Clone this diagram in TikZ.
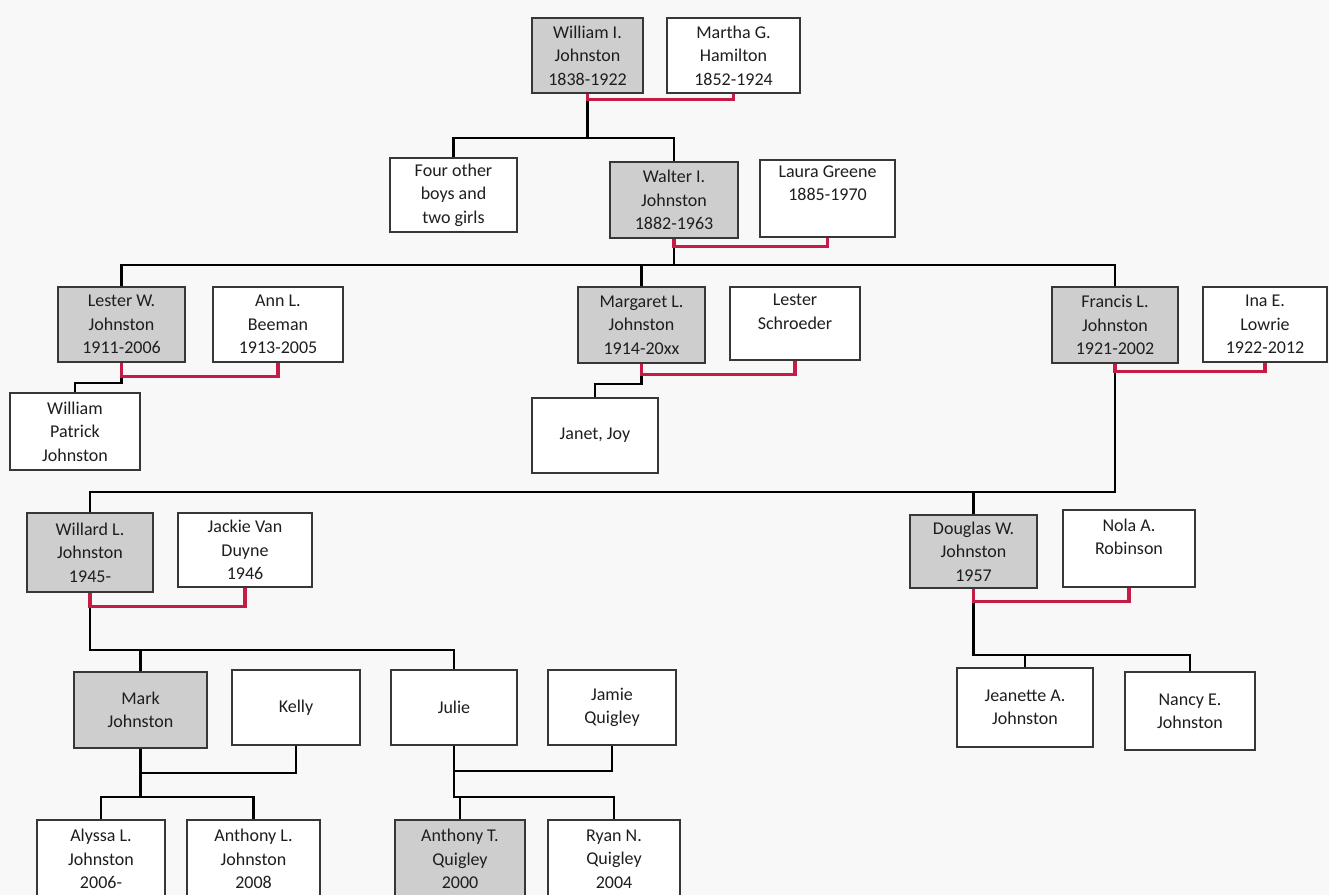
\documentclass[tikz,border=0pt]{standalone}
\usepackage{fontspec}
\setmainfont{Carlito}
\usetikzlibrary{calc}
\definecolor{bgc}{RGB}{248,248,248}
\definecolor{shade}{RGB}{206,206,206}
\definecolor{boxline}{RGB}{55,55,55}
\definecolor{textc}{RGB}{30,30,30}
\definecolor{marriage}{RGB}{196,28,70}
\newcommand\pbox[7]{\node[#6, minimum width={(#4-#2)*0.75pt}, minimum height={(#5-#3)*0.75pt}] (#1) at ({(#2+#4)/2},{(#3+#5)/2}) {#7};}
\begin{document}
\begin{tikzpicture}[x=0.75pt,y=-0.75pt,
  person/.style={draw=boxline, line width=1.8pt, fill=white, inner sep=0pt, align=center, font=\fontsize{13.5}{17.5}\selectfont, text=textc},
  blood/.style={person, fill=shade},
  desc/.style={draw=black, line width=1.7pt},
  marr/.style={draw=marriage, line width=2.4pt},
]
\useasboundingbox (0,0) rectangle (1329,895);
\fill[bgc] (0,0) rectangle (1329,895);
\clip (0,0) rectangle (1329,895);

% generation 0
\pbox{william}{532}{18}{643}{93}{blood}{William I.\\Johnston\\1838-1922}
\pbox{martha}{667}{18}{800}{93}{person}{Martha G.\\Hamilton\\1852-1924}
% generation 1
\pbox{fourboys}{390}{158}{517}{232}{person}{Four other\\boys and\\two girls}
\pbox{walter}{610}{162}{738}{238}{blood}{Walter I.\\Johnston\\1882-1963}
\pbox{laura}{760}{160}{895}{237}{person}{Laura Greene\\1885-1970\\[6pt]}
% generation 2
\pbox{lester}{58}{287}{185}{362}{blood}{Lester W.\\Johnston\\1911-2006}
\pbox{ann}{213}{287}{343}{362}{person}{Ann L.\\Beeman\\1913-2005}
\pbox{margaret}{578}{287}{705}{363}{blood}{Margaret L.\\Johnston\\1914-20xx}
\pbox{lesters}{730}{287}{860}{360}{person}{Lester\\Schroeder\\\mbox{}}
\pbox{francis}{1052}{287}{1178}{363}{blood}{Francis L.\\Johnston\\1921-2002}
\pbox{ina}{1203}{287}{1327}{362}{person}{Ina E.\\Lowrie\\1922-2012}
% generation 3
\pbox{wpatrick}{10}{393}{140}{470}{person}{William\\Patrick\\Johnston}
\pbox{janet}{532}{398}{658}{473}{person}{Janet, Joy}
\pbox{willard}{27}{513}{153}{592}{blood}{Willard L.\\Johnston\\1945-}
\pbox{jackie}{178}{513}{312}{587}{person}{Jackie Van\\Duyne\\1946}
\pbox{douglas}{910}{515}{1037}{588}{blood}{Douglas W.\\Johnston\\1957}
\pbox{nola}{1063}{510}{1195}{587}{person}{Nola A.\\Robinson\\\mbox{}}
% generation 4
\pbox{mark}{74}{672}{207}{748}{blood}{Mark\\Johnston}
\pbox{kelly}{232}{670}{360}{745}{person}{Kelly}
\pbox{julie}{391}{670}{517}{745}{person}{Julie}
\pbox{jamie}{548}{670}{676}{745}{person}{Jamie\\Quigley}
\pbox{jeanette}{957}{668}{1093}{747}{person}{Jeanette A.\\Johnston}
\pbox{nancy}{1125}{672}{1255}{750}{person}{Nancy E.\\Johnston}
% generation 5
\pbox{alyssa}{37}{820}{165}{898}{person}{Alyssa L.\\Johnston\\2006-}
\pbox{anthony}{187}{820}{320}{898}{person}{Anthony L.\\Johnston\\2008}
\pbox{aq}{395}{820}{525}{898}{blood}{Anthony T.\\Quigley\\2000}
\pbox{ryan}{548}{820}{680}{898}{person}{Ryan N.\\Quigley\\2004}

% junction levels
\coordinate (j1) at (0,138);
\coordinate (j2) at (0,265);
\coordinate (j4) at (0,492);
\coordinate (j5) at (0,650);
\coordinate (j5b) at (0,655);
\coordinate (j6) at (0,797);

% descent lines
\draw[desc] (william.south) -- (william.south |- j1);
\draw[desc] (fourboys.north) |- (walter.north |- j1) -- (walter.north);
\draw[desc] (walter.south) -- (walter.south |- j2);
\draw[desc] (lester.north) |- (francis.north |- j2) -- (francis.north);
\draw[desc] (margaret.north) -- (margaret.north |- j2);
\draw[desc] (lester.south) -- ++(0,20) -| (wpatrick.north);
\draw[desc] (margaret.south) -- ++(0,20) -| (janet.north);
\draw[desc] (willard.north) |- (francis.south |- j4) -- (francis.south);
\draw[desc] (douglas.north) -- (douglas.north |- j4);
\draw[desc] (willard.south) |- (julie.north |- j5) -- (julie.north);
\draw[desc] (mark.north) -- (mark.north |- j5);
\draw[desc] (douglas.south) |- (nancy.north |- j5b) -- (nancy.north);
\draw[desc] (jeanette.north) -- (jeanette.north |- j5b);
\draw[desc] (mark.south) -- ++(0,24) -| (kelly.south);
\draw[desc] (mark.south) -- (mark.south |- j6);
\draw[desc] (alyssa.north) |- (anthony.north |- j6) -- (anthony.north);
\draw[desc] (julie.south) -- ++(0,25) -| (jamie.south);
\draw[desc] (julie.south) |- (ryan.north |- j6) -- (ryan.north);
\draw[desc] (aq.north) -- (aq.north |- j6);

% marriage lines
\draw[marr] (william.south) -- ++(0,5) -| (martha.south);
\draw[marr] (walter.south) -- ++(0,7) -| (laura.south);
\draw[marr] (lester.south) -- ++(0,13) -| (ann.south);
\draw[marr] (margaret.south) -- ++(0,10) -| (lesters.south);
\draw[marr] (francis.south) -- ++(0,7) -| (ina.south);
\draw[marr] (willard.south) -- ++(0,13) -| (jackie.south);
\draw[marr] (douglas.south) -- ++(0,12) -| (nola.south);
\end{tikzpicture}
\end{document}
